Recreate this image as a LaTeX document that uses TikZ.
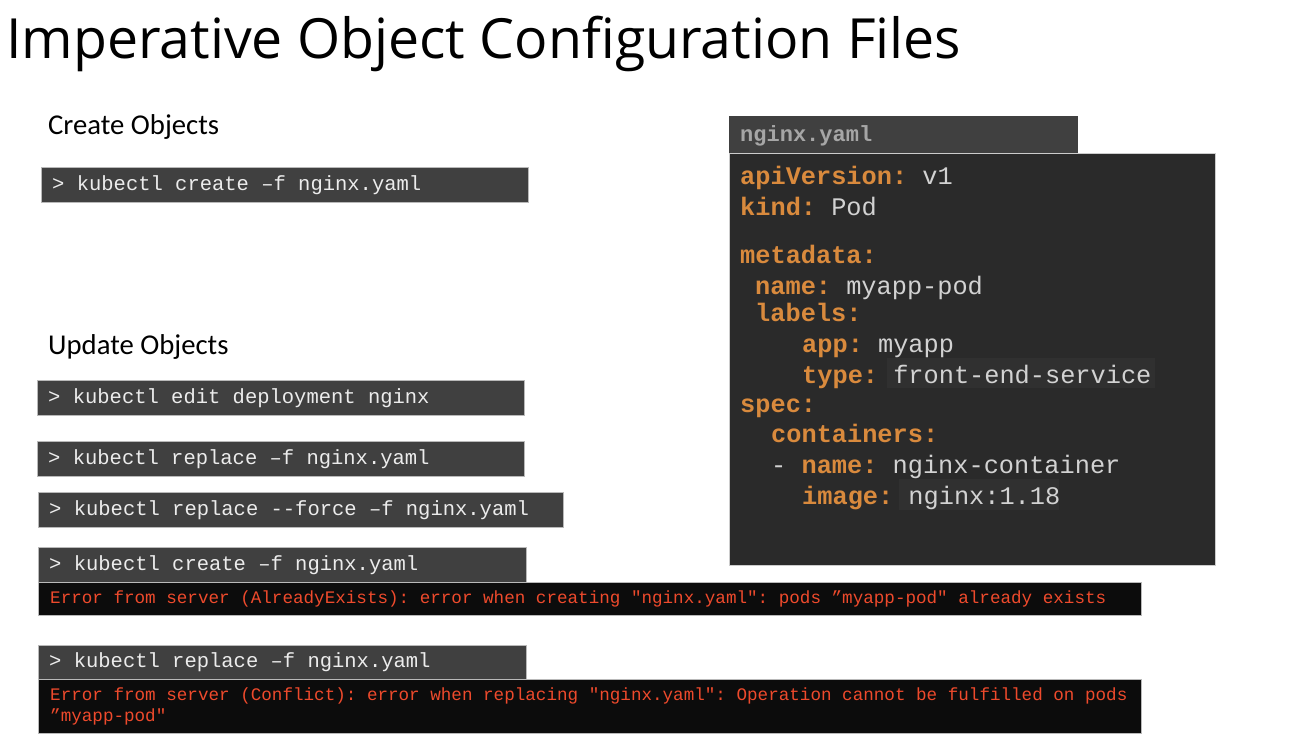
\documentclass[tikz,border=0pt]{standalone}
\usepackage{fontspec}
\usepackage{xcolor}
\usepackage{tikz}
\usetikzlibrary{positioning}
\setmainfont{Carlito}
\setmonofont{Liberation Mono}
\newfontfamily\titlefont{Open Sans}
\definecolor{cmdgray}{HTML}{404040}
\definecolor{yamlbg}{HTML}{2A2A2A}
\definecolor{valbg}{HTML}{303030}
\definecolor{errbg}{HTML}{0C0C0C}
\definecolor{keyorange}{HTML}{D98A3D}
\definecolor{valgray}{HTML}{D2D2D2}
\definecolor{errred}{HTML}{EE4A2C}
\tikzstyle{cmd} = [draw=gray!55, fill=cmdgray, rectangle, anchor=north west, minimum height=35pt, inner xsep=11pt, inner ysep=0pt, text=gray!15, font=\fontsize{20.5}{24}\ttfamily, align=left, execute at begin node={\spaceskip=0pt\xspaceskip=0pt}]
\tikzstyle{err} = [draw=gray!55, fill=errbg, rectangle, anchor=north west, inner xsep=12pt, inner ysep=0pt, text=errred, font=\fontsize{17.6}{21}\ttfamily, align=left, text width=1079pt, execute at begin node={\spaceskip=0pt\xspaceskip=0pt}]
\tikzstyle{yamlline} = [anchor=base west, inner sep=0pt, font=\fontsize{25.3}{30}\ttfamily, text=valgray]
\tikzstyle{heading} = [anchor=base west, inner sep=0pt, font=\fontsize{28.7}{34}\selectfont]
\newcommand{\ykey}[1]{\textcolor{keyorange}{\bfseries #1}}

\begin{document}
\begin{tikzpicture}[x=1pt, y=-1pt]
\useasboundingbox [fill=white] (0,0) rectangle (1300,744);
\node [anchor=base west, inner sep=0pt, font=\fontsize{55.4}{62}\titlefont] (title) at (6,58) {Imperative Object Configuration Files};

\node [heading] (create) at (48,134) {Create Objects};
\node [heading] (update) at (48,354) {Update Objects};

% commands
\node [cmd, minimum width=487pt, text width=465pt] (c1) at (41,167) {> kubectl create –f nginx.yaml};
\node [cmd, minimum width=487pt, text width=465pt] (c2) at (37,380) {> kubectl edit deployment nginx};
\node [cmd, minimum width=487pt, text width=465pt] (c3) at (37,441) {> kubectl replace –f nginx.yaml};
\node [cmd, minimum width=525pt, text width=503pt] (c4) at (38,492) {> kubectl replace --force –f nginx.yaml};
\node [cmd, minimum width=488pt, text width=466pt] (c5) at (38,547) {> kubectl create –f nginx.yaml};
\node [err, minimum height=33pt] (e1) at (38,582) {Error from server (AlreadyExists): error when creating "nginx.yaml": pods ”myapp-pod" already exists};
\node [cmd, minimum width=488pt, text width=466pt, minimum height=34pt] (c6) at (38,645) {> kubectl replace –f nginx.yaml};
\node [err, minimum height=54pt] (e2) at (38,679) {Error from server (Conflict): error when replacing "nginx.yaml": Operation cannot be fulfilled on pods\\”myapp-pod"};

% yaml file
\node [draw=gray!40, fill=yamlbg, anchor=north west, minimum width=486pt, minimum height=412pt, inner sep=0pt] (file) at (729,153) {};
\node [fill=cmdgray, anchor=north west, minimum width=349pt, minimum height=37pt, inner sep=0pt] (tab) at (729,116) {};
\node [anchor=base west, inner sep=0pt, font=\fontsize{22}{26}\ttfamily\bfseries, text=gray!70] (fname) at (740,141) {nginx.yaml};
\fill [valbg] (887,358) rectangle (1155,388);
\fill [valbg] (899,479) rectangle (1059,510);
\node [yamlline] (l1) at (740,184) {\ykey{apiVersion:} v1};
\node [yamlline] (l2) at (740,215) {\ykey{kind:} Pod};
\node [yamlline] (l3) at (740,263) {\ykey{metadata:}};
\node [yamlline] (l4) at (755,294) {\ykey{name:} myapp-pod};
\node [yamlline] (l5) at (755,321) {\ykey{labels:}};
\node [yamlline] (l6) at (802,352) {\ykey{app:} myapp};
\node [yamlline] (l7) at (802,383) {\ykey{type:} front-end-service};
\node [yamlline] (l8) at (740,412) {\ykey{spec:}};
\node [yamlline] (l9) at (771,442) {\ykey{containers:}};
\node [yamlline] (l10) at (771,473) {\textcolor{valgray}{-} \ykey{name:} nginx-container};
\node [yamlline] (l11) at (802,504) {\ykey{image:} nginx:1.18};
\end{tikzpicture}
\end{document}
